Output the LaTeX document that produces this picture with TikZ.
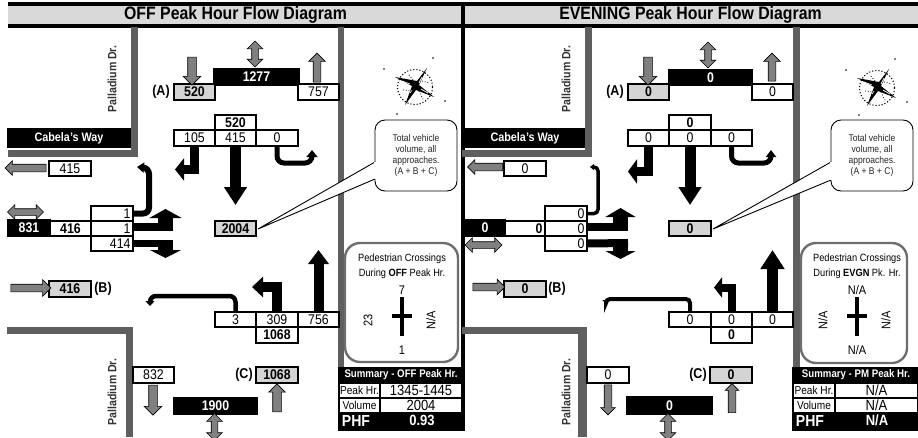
\documentclass[tikz,border=0pt]{standalone}
\usepackage{fontspec}
\setmainfont[FakeStretch=0.88]{Liberation Sans}
\usetikzlibrary{arrows.meta,shapes.arrows}
\definecolor{roadgray}{HTML}{5F5F5F}
\definecolor{bandgray}{HTML}{D9D9D9}
\definecolor{boxgray}{HTML}{D4D4D4}
\definecolor{arrowgray}{HTML}{808080}
\definecolor{pedgray}{HTML}{6E6E6E}
\newcommand{\fs}[1]{\fontsize{#1}{#1}\selectfont}
% name, x1, y1, x2, y2, style, text
\newcommand{\bx}[7]{\node[boxbase,#6,minimum width={(#4-#2)*1pt},minimum height={(#5-#3)*1pt}] (#1) at ({(#2+#4)/2},{(#3+#5)/2}) {#7};}
% right aligned number box
\newcommand{\bxr}[7]{\node[boxbase,#6,minimum width={(#4-#2)*1pt},minimum height={(#5-#3)*1pt},text width={(#4-#2-5)*1pt},align=right] (#1) at ({(#2+#4)/2},{(#3+#5)/2}) {#7};}
% name, x, y, rotation, length, head width, shaft width
\newcommand{\garr}[7]{\node[single arrow,draw=black,line width=.6pt,fill=arrowgray,inner sep=0pt,outer sep=0pt,rotate=#4,minimum height=#5pt,single arrow head extend={(#6-#7)/2*1pt}] (#1) at (#2,#3) {\rule{0pt}{#7pt}};}
\newcommand{\gdbl}[7]{\node[double arrow,draw=black,line width=.6pt,fill=arrowgray,inner sep=0pt,outer sep=0pt,rotate=#4,minimum height=#5pt,double arrow head extend={(#6-#7)/2*1pt}] (#1) at (#2,#3) {\rule{0pt}{#7pt}};}
% compass scribble
\newcommand{\compass}[2]{%
\begin{scope}[shift={(#1,#2)}]
\draw[black,line width=1.1pt,dotted] (0,0) circle (17.5);
\fill[black] (12,-19)--(2,-6)--(-20,-10)--(-3,-1)--(-10,18)--(1,3)--(19,10)--(4,-2)--cycle;
\draw[white,line width=.7pt] (-13,-6)--(-5,-3) (6,2)--(13,6) (7,-10)--(4,-4) (-5,6)--(-3,3);
\draw[black,line width=.8pt,dotted] (-12,3)--(-3,4) (4,4)--(8,12) (-6,-12)--(-2,-7) (7,-6)--(15,-4);
\fill[black] (-31,-18) circle (.8) (18,-29) circle (.8) (30,14) circle (.8) (-18,27) circle (.8);
\end{scope}}
\tikzset{
 boxbase/.style={inner sep=0pt,outer sep=0pt,line width=1.4pt,draw=black,font=\fs{14}},
 plainbox/.style={fill=white},
 boldbox/.style={fill=white,font=\fs{14}\bfseries},
 graybox/.style={fill=boxgray,font=\fs{14}\bfseries},
 blackbox/.style={fill=black,text=white,font=\fs{14}\bfseries},
 tag/.style={font=\fs{14.2}\bfseries,inner sep=0pt},
 roadname/.style={font=\fs{12}\bfseries,text=black!80,inner sep=0pt,rotate=90},
 wayname/.style={fill=black,text=white,font=\fs{12.3}\bfseries,inner sep=0pt},
 road/.style={fill=roadgray},
 fat/.style n args={3}{draw=black,line width=#1pt,-{Triangle[length=#2pt,width=#3pt]}},
 bar/.style={draw=black,line width=#1pt},
 callout/.style={draw=black,line width=.9pt,fill=white,rounded corners=10pt,minimum width=82pt,minimum height=71pt,inner sep=0pt,align=center,font=\fontsize{9.7}{11.2}\selectfont,text=black!85},
 tail/.style={draw=black,line width=.9pt,fill=white},
 pedbox/.style={draw=pedgray,line width=2.4pt,rounded corners=15pt,fill=white},
 pedtext/.style={inner sep=0pt,font=\fs{10.5}},
 pednum/.style={inner sep=0pt,font=\fs{12.5}},
 sumtitle/.style={inner sep=0pt,text=white,font=\fs{11}\bfseries},
 sumlabel/.style={inner sep=0pt,outer sep=0pt,fill=white,font=\fs{11.5}},
 sumvalue/.style={inner sep=0pt,outer sep=0pt,fill=white,font=\fs{14.8}},
 phf/.style={inner sep=0pt,text=white,font=\fs{16}\bfseries},
 phfv/.style={inner sep=0pt,text=white,font=\fs{14.8}\bfseries},
 title/.style={inner sep=0pt,font=\fs{18}\bfseries},
}
\begin{document}
\begin{tikzpicture}[x=1pt,y=-1pt]
\clip (0,0) rectangle (918,437);
\fill[white] (0,0) rectangle (918,437);
% header
\fill[bandgray] (8,6) rectangle (918,24);
\fill[black] (8,2) rectangle (918,6);
\fill[black] (8,24) rectangle (918,28);
\node[title] (t1) at (235.5,15) {OFF Peak Hour Flow Diagram};
\node[title] (t2) at (690.5,15) {EVENING Peak Hour Flow Diagram};
% centre divider
\fill[black] (461,2) rectangle (465,431);
% roads left panel
\fill[road] (131,27) rectangle (138,157);
\fill[road] (8,150) rectangle (138,157);
\fill[road] (7,327) rectangle (133,334);
\fill[road] (126,327) rectangle (133,437);
\fill[road] (338,27) rectangle (344,367);
% roads right panel
\fill[road] (585,27) rectangle (592,157);
\fill[road] (462,150) rectangle (592,157);
\fill[road] (462,327) rectangle (587,334);
\fill[road] (578,327) rectangle (587,437);
\fill[road] (793,27) rectangle (800,367);
% road names
\node[wayname,minimum width=124pt,minimum height=20pt] (lway) at (69,138) {Cabela's Way};
\node[wayname,minimum width=120pt,minimum height=20pt] (rway) at (525,138) {Cabela's Way};
\node[roadname] (lpd1) at (112,79) {Palladium Dr.};
\node[roadname] (lpd2) at (112,392) {Palladium Dr.};
\node[roadname] (rpd1) at (566,79) {Palladium Dr.};
\node[roadname] (rpd2) at (566,392) {Palladium Dr.};
% ---------- LEFT PANEL boxes
\bx{lAbk}{214}{69}{299}{85}{blackbox}{1277}
\bx{lA}{174}{84}{215}{100}{graybox}{520}
\bx{lAo}{298}{84}{339}{100}{plainbox}{757}
\node[tag] (ltagA) at (161,92) {(A)};
\bx{lS}{215}{115}{256}{130}{boldbox}{520}
\bx{l105}{174}{130}{215}{146}{plainbox}{105}
\bx{l415}{215}{130}{256}{146}{plainbox}{415}
\bx{l0}{256}{130}{298}{146}{plainbox}{0}
\bx{lW}{49}{161}{91}{176}{plainbox}{415}
\bx{lWb}{8}{220}{50}{236}{blackbox}{831}
\bx{lWi}{50}{221}{91}{236}{boldbox}{416}
\bxr{lu}{91}{206}{133}{221}{plainbox}{1}
\bxr{lm}{91}{221}{133}{236}{plainbox}{1}
\bxr{ld}{91}{236}{133}{251}{plainbox}{414}
\bx{ltot}{215}{221}{256}{236}{graybox}{2004}
\bx{lB}{49}{281}{91}{297}{graybox}{416}
\node[tag] (ltagB) at (103,289) {(B)};
\bx{l3}{215}{312}{256}{327}{plainbox}{3}
\bx{l309}{256}{312}{298}{327}{plainbox}{309}
\bx{l756}{298}{312}{339}{327}{plainbox}{756}
\bx{lN}{256}{327}{298}{343}{boldbox}{1068}
\bx{l832}{133}{367}{174}{383}{plainbox}{832}
\bx{lSb}{174}{398}{257}{414}{blackbox}{1900}
\bx{lC}{256}{367}{298}{383}{graybox}{1068}
\node[tag] (ltagC) at (244,375) {(C)};
% left gray arrows
\garr{lg1}{192}{69}{-90}{28}{17}{8}
\gdbl{lg2}{255}{54}{90}{26}{15}{6}
\garr{lg3}{317}{69.5}{90}{29}{16}{7}
\garr{lg4}{27.5}{168}{180}{41}{14}{7}
\gdbl{lg5}{25.5}{212}{0}{36}{14}{6}
\garr{lg6}{29}{288}{0}{40}{16}{7}
\garr{lg7}{153}{398}{-90}{30}{17}{8}
\gdbl{lg8}{214.5}{427}{90}{27}{15}{6}
\garr{lg9}{277}{400}{90}{28}{16}{8}
% left movement arrows
\coordinate (ta) at (175,169.5);
\draw[fat={9}{9}{22}] (l105.south) |- (ta);
\coordinate (tb) at (235.5,205);
\draw[fat={11}{18}{22}] (l415.south) -- (tb);
\coordinate (tc1) at (277,163); \coordinate (tc2) at (312,163); \coordinate (tc3) at (312,150);
\draw[fat={5}{7}{11},rounded corners=7pt] (l0.south) -- (tc1) -- (tc2) -- (tc3);
\coordinate (td1) at (149,213.5); \coordinate (td2) at (149,168); \coordinate (td3) at (137,167);
\draw[fat={6}{7}{10},rounded corners=6pt] (lu.east) -- (td1) -- (td2) -- (td3);
\coordinate (te1) at (173,226.5); \coordinate (te2) at (165.5,231); \coordinate (te3) at (165.5,209);
\draw[bar=8] ([yshift=2pt]lm.east) -- (te1);
\draw[fat={15}{9}{32}] (te2) -- (te3);
\coordinate (tf1) at (173,243.5); \coordinate (tf2) at (165.5,240); \coordinate (tf3) at (165.5,258);
\draw[bar=7] (ld.east) -- (tf1);
\draw[fat={15}{8}{31}] (tf2) -- (tf3);
\coordinate (tg) at (318.5,250);
\draw[fat={10}{14}{20}] (l756.north) -- (tg);
\coordinate (th) at (252,287);
\draw[fat={10}{11}{20}] (l309.north) |- (th);
\coordinate (ti1) at (235.5,296); \coordinate (ti2) at (150,296); \coordinate (ti3) at (150,306);
\draw[fat={4.5}{5}{9},rounded corners=6pt] (l3.north) -- (ti1) -- (ti2) -- (ti3);
% left callout
\node[callout] (lcall) at (416,155.5) {Total vehicle\\volume, all\\approaches.\\(A + B + C)};
\coordinate (lca) at (375,162); \coordinate (lcb) at (375,179);
\draw[tail] (lca) -- ([xshift=2pt,yshift=-.5pt]ltot.east) -- (lcb);
\draw[white,line width=1.4pt] (lca) -- (lcb);
\compass{415}{87}
% left pedestrian box
\draw[pedbox] (345,243) rectangle (458,362);
\node[pedtext] (lp1) at (402,259) {Pedestrian Crossings};
\node[pedtext] (lp2) at (402,274) {During \textbf{OFF} Peak Hr.};
\node[pednum] (lp3) at (402,290) {7};
\node[pednum,rotate=90] (lp4) at (368,320) {23};
\node[pednum,rotate=90] (lp5) at (431,320) {N/A};
\node[pednum] (lp6) at (402,350) {1};
\draw[bar=4] (402,297) -- (402,336);
\draw[bar=4] (392,316) -- (412,316);
% left summary
\fill[black] (338,367) rectangle (465,431);
\node[sumtitle] (ls0) at (401,375) {Summary - OFF Peak Hr.};
\node[sumlabel,minimum width=39pt,minimum height=13.5pt] (ls1) at (359.5,390.7) {Peak Hr.};
\node[sumvalue,minimum width=80pt,minimum height=13.5pt] (ls2) at (421,390.7) {1345-1445};
\node[sumlabel,minimum width=39pt,minimum height=13pt] (ls3) at (359.5,405.5) {Volume};
\node[sumvalue,minimum width=80pt,minimum height=13pt] (ls4) at (421,405.5) {2004};
\node[phf] (ls5) at (356,421) {PHF};
\node[phfv] (ls6) at (422,420) {0.93};
% ---------- RIGHT PANEL boxes
\bx{rAbk}{669}{70}{752}{85}{blackbox}{0}
\bx{rA}{628}{84}{669}{100}{graybox}{0}
\bx{rAo}{752}{84}{793}{100}{plainbox}{0}
\node[tag] (rtagA) at (615,92) {(A)};
\bx{rS}{669}{115}{711}{130}{boldbox}{0}
\bx{r105}{628}{130}{669}{146}{plainbox}{0}
\bx{r415}{669}{130}{711}{146}{plainbox}{0}
\bx{r0}{711}{130}{752}{146}{plainbox}{0}
\bx{rW}{504}{161}{546}{176}{plainbox}{0}
\bx{rWb}{465}{220}{505}{236}{blackbox}{0}
\bxr{rWi}{505}{221}{545}{236}{boldbox}{0}
\bxr{ru}{545}{206}{587}{221}{plainbox}{0}
\bxr{rm}{545}{221}{587}{236}{plainbox}{0}
\bxr{rd}{545}{236}{587}{251}{plainbox}{0}
\bx{rtot}{669}{221}{711}{236}{graybox}{0}
\bx{rB}{504}{281}{546}{297}{graybox}{0}
\node[tag] (rtagB) at (557,289) {(B)};
\bx{r3}{669}{312}{711}{327}{plainbox}{0}
\bx{r309}{711}{312}{752}{327}{plainbox}{0}
\bx{r756}{752}{312}{793}{327}{plainbox}{0}
\bx{rN}{711}{327}{752}{343}{boldbox}{0}
\bx{r832}{587}{367}{629}{383}{plainbox}{0}
\bx{rSb}{627}{397}{712}{414}{blackbox}{0}
\bx{rC}{710}{367}{752}{383}{graybox}{0}
\node[tag] (rtagC) at (698,375) {(C)};
% right gray arrows
\garr{rg1}{648}{69}{-90}{28}{17}{8}
\gdbl{rg2}{708}{55}{90}{26}{15}{6}
\garr{rg3}{772}{69}{90}{28}{16}{7}
\garr{rg4}{487}{167}{180}{35}{14}{7}
\gdbl{rg5}{483.5}{245}{0}{37}{14}{6}
\garr{rg6}{487}{287}{0}{32}{15}{7}
\garr{rg7}{608}{398}{-90}{30}{14}{7}
\gdbl{rg8}{668}{427}{90}{27}{15}{6}
\garr{rg9}{732}{400}{90}{29}{13}{7}
% right movement arrows
\coordinate (ua) at (628,171.5);
\draw[fat={9}{9}{24}] (r105.south) |- (ua);
\coordinate (ub) at (690,205);
\draw[fat={11}{18}{22}] (r415.south) -- (ub);
\coordinate (uc1) at (731.5,163); \coordinate (uc2) at (771,163); \coordinate (uc3) at (771,150);
\draw[fat={5}{7}{10},rounded corners=7pt] (r0.south) -- (uc1) -- (uc2) -- (uc3);
\coordinate (ud1) at (598,213.5); \coordinate (ud2) at (598,167); \coordinate (ud3) at (590,167);
\draw[fat={3.5}{4}{6},rounded corners=4pt] (ru.east) -- (ud1) -- (ud2) -- (ud3);
\coordinate (ue1) at (628,226.5); \coordinate (ue2) at (620.5,231); \coordinate (ue3) at (620.5,208);
\draw[bar=8] ([yshift=2pt]rm.east) -- (ue1);
\draw[fat={15}{9}{30}] (ue2) -- (ue3);
\coordinate (uf1) at (628,243); \coordinate (uf2) at (620.5,240); \coordinate (uf3) at (620.5,259);
\draw[bar=8] (rd.east) -- (uf1);
\draw[fat={15}{8}{30}] (uf2) -- (uf3);
\coordinate (ug) at (772.5,250);
\draw[fat={11}{19}{23}] (r756.north) -- (ug);
\coordinate (uh) at (714,287.5);
\draw[fat={8}{8}{20}] (r309.north) |- (uh);
\coordinate (ui1) at (690,299); \coordinate (ui2) at (606,299); \coordinate (ui3) at (606,304);
\draw[fat={4}{4}{7},rounded corners=4pt] (r3.north) -- (ui1) -- (ui2) -- (ui3);
% right callout
\node[callout] (rcall) at (872,155.5) {Total vehicle\\volume, all\\approaches.\\(A + B + C)};
\coordinate (rca) at (831,162); \coordinate (rcb) at (831,180);
\draw[tail] (rca) -- ([xshift=2pt,yshift=-.5pt]rtot.east) -- (rcb);
\draw[white,line width=1.4pt] (rca) -- (rcb);
\compass{877}{88}
% right pedestrian box
\draw[pedbox] (801,243) rectangle (907,363);
\node[pedtext] (rp1) at (857,259) {Pedestrian Crossings};
\node[pedtext] (rp2) at (857,274) {During \textbf{EVGN} Pk. Hr.};
\node[pednum] (rp3) at (857,290) {N/A};
\node[pednum,rotate=90] (rp4) at (823,320) {N/A};
\node[pednum,rotate=90] (rp5) at (886,320) {N/A};
\node[pednum] (rp6) at (857,350) {N/A};
\draw[bar=4] (857,297) -- (857,336);
\draw[bar=4] (847,316) -- (867,316);
% right summary
\fill[black] (792,367) rectangle (918,431);
\node[sumtitle] (rs0) at (856,375) {Summary - PM Peak Hr.};
\node[sumlabel,minimum width=40pt,minimum height=13.5pt] (rs1) at (814,390.7) {Peak Hr.};
\node[sumvalue,minimum width=81pt,minimum height=13.5pt] (rs2) at (876.5,390.7) {N/A};
\node[sumlabel,minimum width=40pt,minimum height=13pt] (rs3) at (814,405.5) {Volume};
\node[sumvalue,minimum width=81pt,minimum height=13pt] (rs4) at (876.5,405.5) {N/A};
\node[phf] (rs5) at (810,421) {PHF};
\node[phfv] (rs6) at (877,420) {N/A};
\end{tikzpicture}
\end{document}
